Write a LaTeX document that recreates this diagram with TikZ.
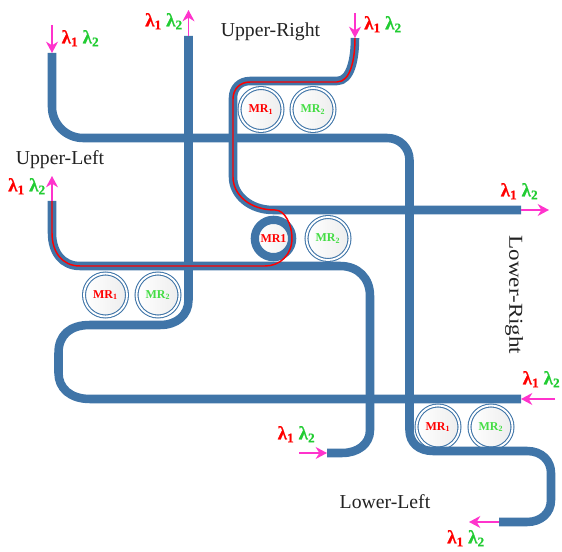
\documentclass[tikz,border=0pt]{standalone}
\usepackage{fontspec}
\setmainfont{Liberation Serif}
\usetikzlibrary{arrows.meta}
\definecolor{guide}{HTML}{4075A8}
\definecolor{pinkarrow}{HTML}{FF33CC}
\definecolor{lamgreen}{HTML}{22CC33}
\definecolor{mrgreen}{HTML}{44DD44}
\definecolor{labelgray}{HTML}{222222}
\newcommand{\LL}{\textcolor{red}{λ\textsubscript{1}}\hspace{3.2pt}\textcolor{lamgreen}{λ\textsubscript{2}}}
\newcommand{\MRa}{\textcolor{red}{MR\textsubscript{1}}}
\newcommand{\MRb}{\textcolor{mrgreen}{MR\textsubscript{2}}}
\tikzset{
  x=0.75pt,y=-0.75pt,
  waveguide/.style={draw=guide,line width=6.4pt,line cap=butt,line join=round},
  redpath/.style={draw=red,line width=1.1pt,line join=round},
  port/.style={draw=pinkarrow,line width=1.4pt,-{Stealth[length=8.5pt,width=9pt]}},
  lam/.style={font=\bfseries\fontsize{14.3}{16}\selectfont\addfontfeature{FakeBold=0.6},anchor=base,inner sep=0pt},
  region/.style={font=\fontsize{14.8}{16}\selectfont,text=labelgray,inner sep=0pt},
  ringnode/.style={circle,draw=guide,line width=0.8pt,double=white,double distance=1.4pt,
    minimum size=32.25pt,inner sep=0pt,left color=white,right color=black!7,
    font=\bfseries\fontsize{9}{10}\selectfont},
  thickring/.style={circle,draw=guide,line width=6.2pt,minimum size=28pt,inner sep=0pt,
    left color=white,right color=black!6,font=\bfseries\fontsize{9}{10}\selectfont,text=red},
}
\begin{document}
\begin{tikzpicture}
\useasboundingbox (0,0) rectangle (562,552);
% rings below the guides
\node[ringnode] (ur1) at (261,109.5) {\MRa};
\node[ringnode] (ur2) at (313,109.5) {\MRb};
\node[ringnode] (mid2) at (328,238.5) {\MRb};
\node[ringnode] (ul1) at (105.5,295) {\MRa};
\node[ringnode] (ul2) at (158,295) {\MRb};
\node[ringnode] (lr1) at (438,427) {\MRa};
\node[ringnode] (lr2) at (491,427) {\MRb};
% ports
\coordinate (w1s) at (52,53);
\coordinate (w1e) at (499,522);
\coordinate (w2s) at (188.5,36);
\coordinate (w2e) at (521,399);
\coordinate (w3s) at (355,38);
\coordinate (w3e) at (521,210);
\coordinate (w4s) at (52,201);
\coordinate (w4e) at (327,453);
\coordinate (a1) at (52,25);
\coordinate (a2) at (188.5,10);
\coordinate (a3) at (52,176);
\coordinate (a4) at (355,13);
\coordinate (a5) at (549,210);
\coordinate (a6) at (555,399);
\coordinate (a7) at (299,453);
\coordinate (a8) at (469,522);
% waveguides
\draw[waveguide] (w2s) -- (188.5,300) .. controls (188.5,315) and (177,325) .. (160,325)
  -- (90,325) .. controls (70,325) and (58.5,335) .. (58.5,353) -- (58.5,373)
  .. controls (58.5,388) and (70,399) .. (90,399) -- (w2e);
\draw[waveguide] (w1s) -- (52,107) .. controls (52,124) and (66,138) .. (83,138)
  -- (387,138) .. controls (400,138) and (409.5,148) .. (409.5,160) -- (409.5,430)
  .. controls (409.5,443) and (419,451) .. (433,451) -- (527,451)
  .. controls (542,451) and (551,461) .. (551,473) -- (551,500)
  .. controls (551,513) and (541,522) .. (527,522) -- (w1e);
\draw[waveguide] (w3s) .. controls (355,58) and (351,81) .. (337,81)
  -- (250,81) .. controls (240,81) and (233,88) .. (233,98) -- (233,177)
  .. controls (233,195) and (250,210) .. (273,210) -- (w3e);
\draw[waveguide] (w4s) -- (52,233) .. controls (52,252) and (62,266) .. (80,266)
  -- (340,266) .. controls (358,266) and (370,278) .. (370,296) -- (370,430)
  .. controls (370,444) and (358,453) .. (342,453) -- (w4e);
\node[thickring] (mid1) at (273.5,238.5) {MR1};
% red signal path
\draw[redpath] (w3s) .. controls (355,58) and (351,82) .. (337,82)
  -- (250,82) .. controls (240,82) and (233,89) .. (233,99) -- (233,177)
  .. controls (233,195) and (250,210) .. (275,210)
  .. controls (285,210) and (292,225) .. (292,238)
  .. controls (292,255) and (280,266) .. (265,266)
  -- (80,266) .. controls (62,266) and (52,252) .. (52,233) -- (w4s);
% arrows
\draw[port] (a1) -- (w1s);
\draw[port] (w2s) -- (a2);
\draw[port] (w4s) -- (a3);
\draw[port] (a4) -- (w3s);
\draw[port] (w3e) -- (a5);
\draw[port] (a6) -- (w2e);
\draw[port] (a7) -- (w4e);
\draw[port] (w1e) -- (a8);
% wavelength labels
\node[lam] (l1) at (80.5,43.5) {\LL};
\node[lam] (l2) at (164,26.5) {\LL};
\node[lam] (l3) at (27,191.5) {\LL};
\node[lam] (l4) at (383,29.5) {\LL};
\node[lam] (l5) at (519.5,196.5) {\LL};
\node[lam] (l6) at (541.5,384.5) {\LL};
\node[lam] (l7) at (296.5,439.5) {\LL};
\node[lam] (l8) at (466,543.5) {\LL};
% region labels
\node[region] (ur) at (270.5,32) {Upper-Right};
\node[region] (ul) at (60,160) {Upper-Left};
\node[region,rotate=-90,xscale=1.17] (lr) at (514,295) {Lower-Right};
\node[region] (ll) at (385,502) {Lower-Left};
\end{tikzpicture}
\end{document}
